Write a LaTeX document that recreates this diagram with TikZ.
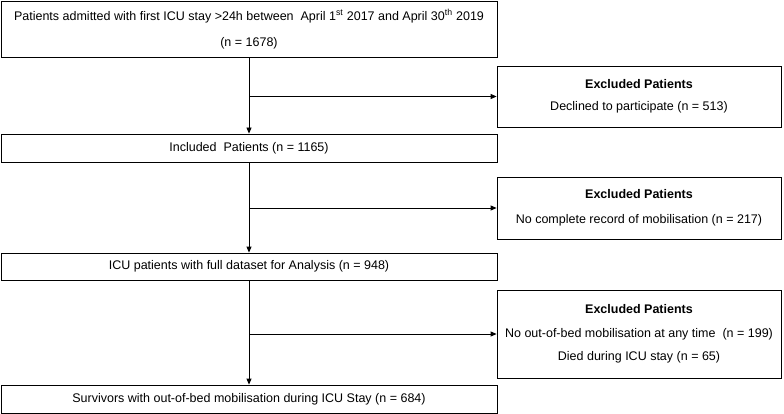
\documentclass[tikz,border=0pt]{standalone}
\usepackage{fontspec}
\setmainfont{Liberation Sans}
\usetikzlibrary{arrows.meta}
\tikzset{box/.style = {draw, rectangle, inner sep=0, minimum width=496, align=center, line width=0.8}}
\tikzset{exbox/.style = {draw, rectangle, inner sep=0, minimum width=284, align=center, line width=0.8}}
\tikzset{flow/.style = {line width=0.8, -{Triangle[length=6, width=5]}}}

\begin{document}
\begin{tikzpicture}[x=1pt, y=-1pt, font=\fontsize{12.5}{15}\selectfont]
    \useasboundingbox (0, 0) rectangle (784, 414);

    % main column
    \node [box, minimum height=56] (admit) at (249, 29) {Patients admitted with first ICU stay >24h between\ \ April 1\textsuperscript{st} 2017 and April 30\textsuperscript{th} 2019\\[11pt](n = 1678)};
    \node [box, minimum height=28] (incl) at (249, 148) {Included\ \ Patients (n = 1165)};
    \node [box, minimum height=27] (icu) at (249, 266.5) {ICU patients with full dataset for Analysis (n = 948)};
    \node [box, minimum height=28] (surv) at (249, 399) {Survivors with out-of-bed mobilisation during ICU Stay (n = 684)};

    % excluded boxes
    \node [exbox, minimum height=61] (excl1) at (639, 96.5) {\textbf{Excluded Patients}\\[7pt]Declined to participate (n = 513)};
    \node [exbox, minimum height=62] (excl2) at (639, 208) {\textbf{Excluded Patients}\\[10pt]No complete record of mobilisation (n = 217)};
    \node [exbox, minimum height=88] (excl3) at (639, 334) {\textbf{Excluded Patients}\\[9pt]No out-of-bed mobilisation at any time\ \ (n = 199)\\[8pt]Died during ICU stay (n = 65)};

    \draw [flow] (admit) -- (incl);
    \draw [flow] (incl) -- (icu);
    \draw [flow] (icu) -- (surv);

    \draw [flow] (admit.south |- excl1) -- (excl1.west);
    \draw [flow] (incl.south |- excl2) -- (excl2.west);
    \draw [flow] (icu.south |- excl3) -- (excl3.west);
\end{tikzpicture}
\end{document}
